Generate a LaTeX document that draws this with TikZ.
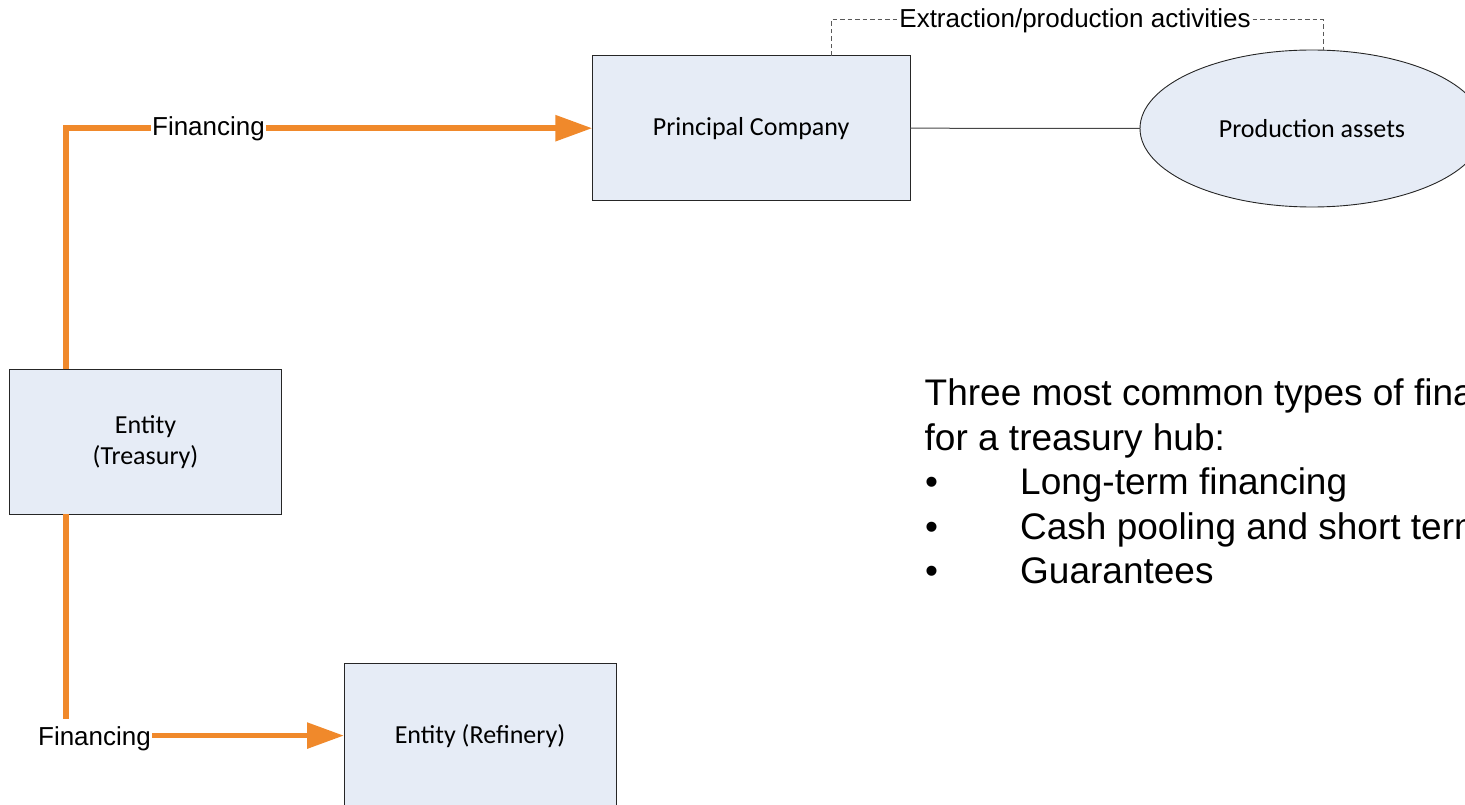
\documentclass[tikz,border=0pt]{standalone}
\usepackage{fontspec}
\setmainfont{Liberation Sans}
\newfontfamily\arialf{Liberation Sans}
\newfontfamily\calibrif{Carlito}
\usetikzlibrary{arrows.meta,shapes.geometric}
\definecolor{boxfill}{RGB}{230,236,246}
\definecolor{finorange}{RGB}{240,137,43}
\definecolor{linkgray}{RGB}{70,70,70}
\tikzset{
  entitybox/.style={draw=black!85, line width=0.9pt, fill=boxfill, rectangle,
    inner sep=0pt, outer sep=0pt, align=center,
    font=\calibrif\fontsize{26}{31}\selectfont},
  assetell/.style={draw=black!85, line width=0.9pt, fill=boxfill, ellipse,
    inner sep=0pt, outer sep=0pt, minimum width=344pt, minimum height=157pt,
    font=\calibrif\fontsize{26}{31}\selectfont},
  finline/.style={draw=finorange, line width=5.7pt,
    -{Triangle[length=37pt,width=25pt]}},
  finlabel/.style={fill=white, inner xsep=1.5pt, inner ysep=7.4pt, anchor=base,
    font=\arialf\fontsize{26}{31}\selectfont},
  linkline/.style={draw=linkgray, line width=1pt},
  dashline/.style={draw=black!65, line width=0.9pt, dash pattern=on 4.5pt off 3pt},
  dashlabel/.style={fill=white, inner xsep=1.5pt, inner ysep=2pt, anchor=base,
    font=\arialf\fontsize{26}{31}\selectfont},
  bigtext/.style={anchor=base west, inner sep=0pt,
    font=\arialf\fontsize{37}{44}\selectfont}
}
\begin{document}
\begin{tikzpicture}[x=1pt,y=-1pt]
\useasboundingbox (0,0) rectangle (1465,805);
\clip (0,0) rectangle (1465,805);

% boxes
\node[entitybox, minimum width=317.7pt, minimum height=145pt] (P) at (751.2,128.2) {Principal Company};
\node[entitybox, minimum width=272.4pt, minimum height=145pt] (T) at (145.5,441.8) {Entity\\(Treasury)};
\node[entitybox, minimum width=272pt, minimum height=145pt] (R) at (480,735.6) {Entity (Refinery)};
\node[assetell] (E) at (1312,128.5) {Production assets};

% helper coordinates
\coordinate (tx) at (66,0);
\coordinate (dl) at (831,19.7);
\coordinate (dr) at (1323,19.7);

% connectors
\draw[finline] (T.north -| tx) |- (P.west);
\draw[finline] (T.south -| tx) |- (R.west);
\draw[linkline] (P.east) -- (E.west);
\draw[dashline] (P.north -| dl) -- (dl) -- (dr) -- (E.north -| dr);

% labels
\node[finlabel] (f1) at (208.5,136) {Financing};
\node[finlabel] (f2) at (94.5,745) {Financing};
\node[dashlabel] (ex) at (1075,28) {Extraction/production activities};

% text block
\node[bigtext] (t1) at (924.5,405.5) {Three most common types of financing};
\node[bigtext] (t2) at (924.5,450) {for a treasury hub:};
\node[bigtext] (b1) at (925,494.5) {•};
\node[bigtext] (b2) at (925,539) {•};
\node[bigtext] (b3) at (925,583.5) {•};
\node[bigtext] (i1) at (1020,494.5) {Long-term financing};
\node[bigtext] (i2) at (1020,539) {Cash pooling and short term financing};
\node[bigtext] (i3) at (1020,583.5) {Guarantees};
\end{tikzpicture}
\end{document}
